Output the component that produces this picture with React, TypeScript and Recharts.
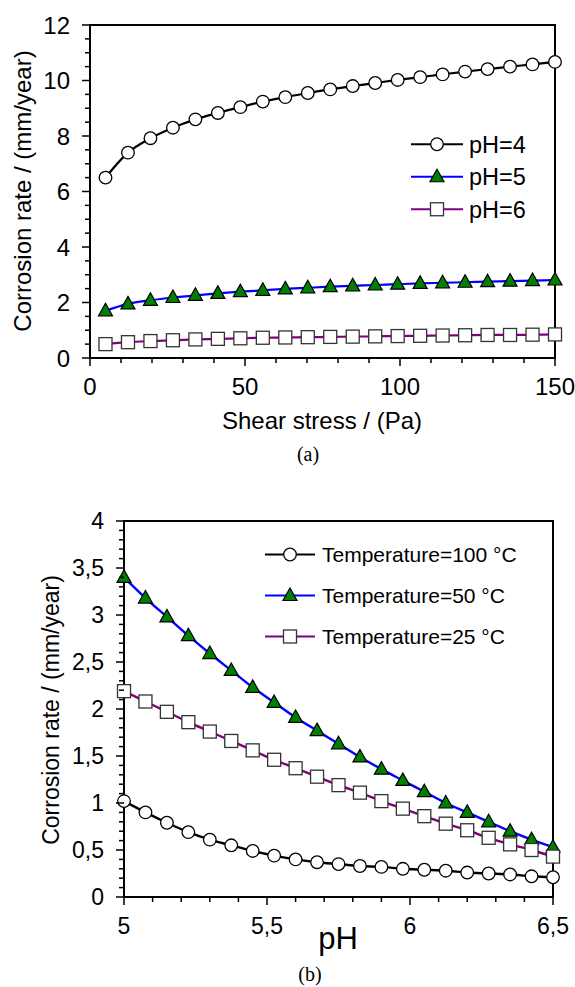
import React from 'react';
import {Legend, Line, LineChart, ReferenceArea, XAxis, YAxis} from 'recharts';

// (a) corrosion rate vs shear stress
const shear = [5, 12.25, 19.5, 26.75, 34, 41.25, 48.5, 55.75, 63, 70.25, 77.5, 84.75, 92, 99.25, 106.5, 113.75, 121, 128.25, 135.5, 142.75, 150];
const ph4 = [6.5, 7.4, 7.92, 8.3, 8.6, 8.83, 9.04, 9.24, 9.4, 9.55, 9.68, 9.8, 9.91, 10.02, 10.12, 10.22, 10.32, 10.41, 10.5, 10.58, 10.67];
const ph5 = [1.7, 1.95, 2.08, 2.18, 2.26, 2.33, 2.39, 2.44, 2.49, 2.53, 2.57, 2.6, 2.63, 2.66, 2.69, 2.71, 2.73, 2.75, 2.77, 2.79, 2.81];
const ph6 = [0.5, 0.57, 0.61, 0.64, 0.67, 0.69, 0.71, 0.73, 0.74, 0.75, 0.76, 0.77, 0.78, 0.79, 0.8, 0.81, 0.82, 0.83, 0.83, 0.84, 0.85];

// (b) corrosion rate vs pH
const phAxis = [5, 5.075, 5.15, 5.225, 5.3, 5.375, 5.45, 5.525, 5.6, 5.675, 5.75, 5.825, 5.9, 5.975, 6.05, 6.125, 6.2, 6.275, 6.35, 6.425, 6.5];
const t100 = [1.02, 0.9, 0.79, 0.69, 0.61, 0.55, 0.49, 0.44, 0.4, 0.37, 0.35, 0.33, 0.32, 0.3, 0.29, 0.28, 0.26, 0.25, 0.24, 0.22, 0.21];
const t50 = [3.4, 3.18, 2.98, 2.78, 2.59, 2.41, 2.23, 2.07, 1.91, 1.77, 1.63, 1.49, 1.36, 1.24, 1.12, 1.0, 0.9, 0.8, 0.7, 0.61, 0.53];
const t25 = [2.19, 2.08, 1.97, 1.86, 1.76, 1.66, 1.56, 1.46, 1.37, 1.28, 1.19, 1.11, 1.02, 0.94, 0.86, 0.78, 0.71, 0.63, 0.56, 0.5, 0.43];

// tick values
const topXMajor = [0, 50, 100, 150];
const topXTicks = [0, 10, 20, 30, 40, 50, 60, 70, 80, 90, 100, 110, 120, 130, 140, 150];
const topYMajor = [0, 2, 4, 6, 8, 10, 12];
const topYTicks = [0, 0.5, 1, 1.5, 2, 2.5, 3, 3.5, 4, 4.5, 5, 5.5, 6, 6.5, 7, 7.5, 8, 8.5, 9, 9.5, 10, 10.5, 11, 11.5, 12];
const botXMajor = [5, 5.5, 6, 6.5];
const botXTicks = [5, 5.1, 5.2, 5.3, 5.4, 5.5, 5.6, 5.7, 5.8, 5.9, 6, 6.1, 6.2, 6.3, 6.4, 6.5];
const botYMajor = [0, 0.5, 1, 1.5, 2, 2.5, 3, 3.5, 4];
const botYTicks = [0, 0.1, 0.2, 0.3, 0.4, 0.5, 0.6, 0.7, 0.8, 0.9, 1, 1.1, 1.2, 1.3, 1.4, 1.5, 1.6, 1.7, 1.8, 1.9, 2,
  2.1, 2.2, 2.3, 2.4, 2.5, 2.6, 2.7, 2.8, 2.9, 3, 3.1, 3.2, 3.3, 3.4, 3.5, 3.6, 3.7, 3.8, 3.9, 4];

const topSeries = [
  {key: 'ph4', name: 'pH=4', color: '#000000', marker: 'circle'},
  {key: 'ph5', name: 'pH=5', color: '#0000ff', marker: 'triangle'},
  {key: 'ph6', name: 'pH=6', color: '#800080', marker: 'square'},
];
const botSeries = [
  {key: 't100', name: 'Temperature=100 °C', color: '#000000', marker: 'circle'},
  {key: 't50', name: 'Temperature=50 °C', color: '#0000ff', marker: 'triangle'},
  {key: 't25', name: 'Temperature=25 °C', color: '#800080', marker: 'square'},
];

const topData = shear.map((s, i) => ({shear: s, ph4: ph4[i], ph5: ph5[i], ph6: ph6[i]}));
const botData = phAxis.map((p, i) => ({ph: p, t100: t100[i], t50: t50[i], t25: t25[i]}));

const FONT = '"Liberation Sans", Arial, Helvetica, sans-serif';

function Marker({kind, cx, cy}: {kind: string; cx: number; cy: number}) {
  if (cx == null || cy == null) return null;
  if (kind === 'circle') {
    return <circle cx={cx} cy={cy} r={6.3} fill="#fff" stroke="#000" strokeWidth={1.3}/>;
  }
  if (kind === 'triangle') {
    return <polygon points={`${cx},${cy - 7.5} ${cx + 7},${cy + 5} ${cx - 7},${cy + 5}`} fill="#008000" stroke="#000" strokeWidth={1.2}/>;
  }
  return <rect x={cx - 6.5} y={cy - 6.5} width={13} height={13} fill="#fff" stroke="#333" strokeWidth={1.3}/>;
}

type TickCfg = {side: 'left' | 'bottom'; majors: number[]; gap: number; fontSize: number; comma?: boolean};

function makeTick(cfg: TickCfg) {
  return (props: any) => {
    const {x, y, payload} = props;
    const v = payload.value;
    const isMajor = cfg.majors.some(m => Math.abs(m - v) < 1e-6);
    const len = isMajor ? 8 : 5;
    const label = cfg.comma ? String(v).replace('.', ',') : String(v);
    if (cfg.side === 'left') {
      return (
        <g>
          <line x1={x - len} y1={y} x2={x} y2={y} stroke="#000" strokeWidth={1.5}/>
          {isMajor && (
            <text x={x - cfg.gap} y={y} dy="0.36em" textAnchor="end" fontSize={cfg.fontSize} fontFamily={FONT} fill="#000">{label}</text>
          )}
        </g>
      );
    }
    return (
      <g>
        <line x1={x} y1={y} x2={x} y2={y + len} stroke="#000" strokeWidth={1.5}/>
        {isMajor && (
          <text x={x} y={y + cfg.gap} dy="0.36em" textAnchor="middle" fontSize={cfg.fontSize} fontFamily={FONT} fill="#000">{label}</text>
        )}
      </g>
    );
  };
}

// legend keeps the series order (recharts sorts its payload by name)
function makeLegend(series: any[], rowH: number, lineW: number, textGap: number, fontSize: number) {
  return () => (
    <svg width={300} height={rowH * series.length} style={{overflow: 'visible'}}>
      {series.map((s, i) => {
        const cy = rowH * i + rowH / 2;
        return (
          <g key={s.key}>
            <line x1={0} x2={lineW} y1={cy} y2={cy} stroke={s.color} strokeWidth={2.2}/>
            <Marker kind={s.marker} cx={lineW / 2} cy={cy}/>
            <text x={lineW + textGap} y={cy} dy="0.36em" fontSize={fontSize} fontFamily={FONT} fill="#000">{s.name}</text>
          </g>
        );
      })}
    </svg>
  );
}

function Text({x, y, size, rotate, serif, children}: any) {
  return (
    <div style={{
      position: 'absolute', left: x, top: y, whiteSpace: 'nowrap', lineHeight: 1,
      fontSize: size, fontFamily: serif ? '"Liberation Serif", "Times New Roman", serif' : FONT, color: '#000',
      transform: `translate(-50%, -50%)${rotate ? ' rotate(-90deg)' : ''}`,
    }}>{children}</div>
  );
}

export default function App() {
  return (
    <div style={{position: 'absolute', left: 0, top: 0, width: 575, height: 987, background: '#fff'}}>
      <div style={{position: 'absolute', left: 0, top: 0}}>
        <LineChart width={575} height={400} data={topData} margin={{top: 25, right: 20, left: 0, bottom: 0}}>
          <XAxis dataKey="shear" type="number" domain={[0, 150]} ticks={topXTicks} interval={0}
                 height={42} tickSize={0} tickMargin={0} tickLine={false}
                 axisLine={{stroke: '#000', strokeWidth: 2}}
                 tick={makeTick({side: 'bottom', majors: topXMajor, gap: 28, fontSize: 24})}/>
          <YAxis type="number" domain={[0, 12]} ticks={topYTicks} interval={0}
                 width={90} tickSize={0} tickMargin={0} tickLine={false}
                 axisLine={{stroke: '#000', strokeWidth: 2}}
                 tick={makeTick({side: 'left', majors: topYMajor, gap: 20, fontSize: 24})}/>
          <ReferenceArea x1={0} x2={150} y1={0} y2={12} fill="none" stroke="#000" strokeWidth={2} ifOverflow="visible"/>
          {topSeries.map(s => (
            <Line key={s.key} dataKey={s.key} name={s.name} type="monotone" stroke={s.color} strokeWidth={2.2}
                  isAnimationActive={false} activeDot={false}
                  dot={(p: any) => <Marker key={`${s.key}-${p.index}`} kind={s.marker} cx={p.cx} cy={p.cy}/>}/>
          ))}
          <Legend layout="vertical" align="center" verticalAlign="middle"
                  wrapperStyle={{position: 'absolute', left: 411, top: 128, width: 160}}
                  content={makeLegend(topSeries, 32.5, 52, 6, 23.5)}/>
        </LineChart>
      </div>

      <div style={{position: 'absolute', left: 0, top: 480}}>
        <LineChart width={575} height={507} data={botData} margin={{top: 41, right: 22, left: 0, bottom: 0}}>
          <XAxis dataKey="ph" type="number" domain={[5, 6.5]} ticks={botXTicks} interval={0}
                 height={90} tickSize={0} tickMargin={0} tickLine={false}
                 axisLine={{stroke: '#000', strokeWidth: 2}}
                 tick={makeTick({side: 'bottom', majors: botXMajor, gap: 29, fontSize: 23, comma: true})}/>
          <YAxis type="number" domain={[0, 4]} ticks={botYTicks} interval={0}
                 width={124} tickSize={0} tickMargin={0} tickLine={false}
                 axisLine={{stroke: '#000', strokeWidth: 2}}
                 tick={makeTick({side: 'left', majors: botYMajor, gap: 20, fontSize: 23, comma: true})}/>
          <ReferenceArea x1={5} x2={6.5} y1={0} y2={4} fill="none" stroke="#000" strokeWidth={2} ifOverflow="visible"/>
          {botSeries.map(s => (
            <Line key={s.key} dataKey={s.key} name={s.name} type="monotone" stroke={s.color} strokeWidth={2.4}
                  isAnimationActive={false} activeDot={false}
                  dot={(p: any) => <Marker key={`${s.key}-${p.index}`} kind={s.marker} cx={p.cx} cy={p.cy}/>}/>
          ))}
          <Legend layout="vertical" align="center" verticalAlign="middle"
                  wrapperStyle={{position: 'absolute', left: 265, top: 54, width: 300}}
                  content={makeLegend(botSeries, 41, 50, 7, 21)}/>
        </LineChart>
      </div>

      <Text x={23} y={191} size={24} rotate>Corrosion rate / (mm/year)</Text>
      <Text x={322} y={421} size={24}>Shear stress / (Pa)</Text>
      <Text x={308} y={454} size={20} serif>(a)</Text>

      <Text x={51} y={710} size={23} rotate>Corrosion rate / (mm/year)</Text>
      <Text x={338} y={938} size={31}>pH</Text>
      <Text x={310} y={974} size={20} serif>(b)</Text>
    </div>
  );
}
